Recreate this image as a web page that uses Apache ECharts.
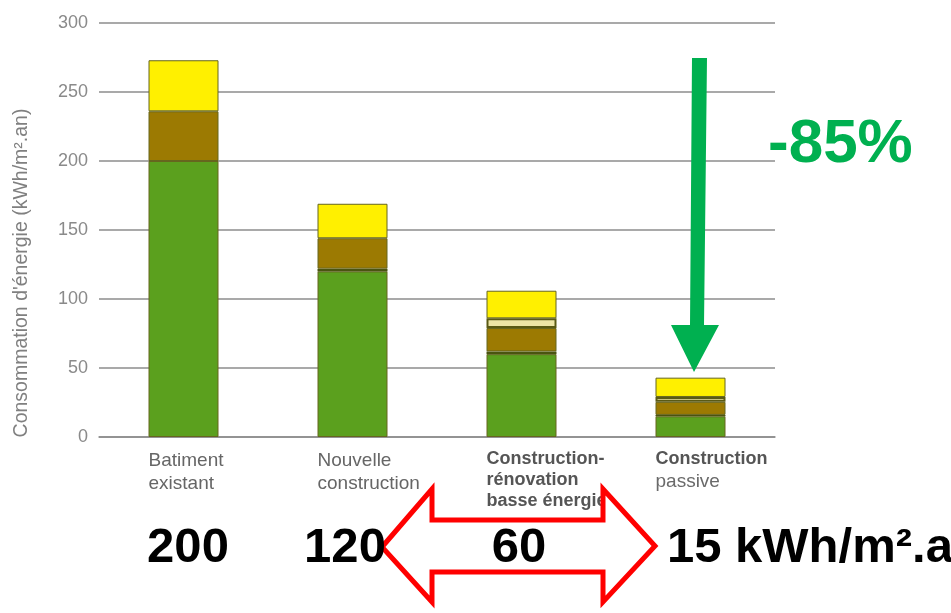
<!DOCTYPE html>
<html>
<head>
<meta charset="utf-8">
<script src="https://cdn.jsdelivr.net/npm/echarts@6/dist/echarts.min.js"></script>
<style>
  html, body { margin: 0; padding: 0; background: #ffffff; }
  #chart { width: 951px; height: 613px; }
</style>
</head>
<body>
<div id="chart"></div>
<script>
// Building categories and energy use per end use (kWh/m².an), stacked bottom to top
const categories = ['Batiment\nexistant', 'Nouvelle\nconstruction', 'Construction-\nrénovation\nbasse énergie', 'Construction\npassive'];
const chauffage   = [200, 120, 60, 15];
const auxiliaires = [0, 2, 2, 1];
const eauChaude   = [36, 22, 17, 9.5];
const ventilation = [0, 0, 7, 3.5];
const electricite = [37, 25, 20, 14];
const yTicks = [0, 50, 100, 150, 200, 250, 300];
const yTitle = "Consommation d'énergie (kWh/m².an)";
const reduction = '-85%';
const unit = ' kWh/m².a';

const FONT = "'Liberation Sans', Arial, sans-serif";
const chart = echarts.init(document.getElementById('chart'), null, { renderer: 'canvas' });

const border = '#66661e';
function seg(name, values, color, extra) {
  return Object.assign({
    name: name,
    type: 'bar',
    stack: 'total',
    barWidth: 70,
    data: values.map(v => (v === 0 ? '-' : v)),
    itemStyle: { color: color, borderColor: border, borderWidth: 1 },
    emphasis: { disabled: true },
    animation: false
  }, extra || {});
}

// Category labels: the last two are set in bold (the passive line in regular)
function categoryLabel(value, index) {
  const lines = value.split('\n');
  return lines.map((line, j) => {
    if (index === 2) return '{b|' + line + '}';
    if (index === 3) return (j === 0 ? '{b|' : '{p|') + line + '}';
    return '{n|' + line + '}';
  }).join('\n');
}

// Summary figures under the axis, taken from the heating values
const figureX = [188, 345, 519, 667];
const figures = chauffage.map((v, i) => ({
  type: 'text',
  z: 120,
  x: figureX[i],
  y: 548,
  style: {
    text: String(v) + (i === 3 ? unit : ''),
    fill: '#000000',
    font: 'bold 49px ' + FONT,
    textAlign: i === 3 ? 'left' : 'center',
    textVerticalAlign: 'middle'
  }
}));

const option = {
  backgroundColor: '#ffffff',
  animation: false,
  grid: { left: 99, right: 176, top: 23, bottom: 176 },
  xAxis: {
    type: 'category',
    data: categories,
    axisLine: { show: true, lineStyle: { color: '#8c8c8c', width: 1.5 } },
    axisTick: { show: false },
    axisLabel: {
      interval: 0,
      align: 'left',
      verticalAlign: 'top',
      margin: 12,
      padding: [0, 0, 0, -35],
      formatter: categoryLabel,
      rich: {
        n: { fontFamily: FONT, fontSize: 19, color: '#666666', lineHeight: 23 },
        p: { fontFamily: FONT, fontSize: 19, color: '#6a6a6a', lineHeight: 23 },
        b: { fontFamily: FONT, fontSize: 18, fontWeight: 'bold', color: '#555555', lineHeight: 21 }
      }
    }
  },
  yAxis: {
    type: 'value',
    min: yTicks[0],
    max: yTicks[yTicks.length - 1],
    interval: yTicks[1] - yTicks[0],
    axisLine: { show: false },
    axisTick: { show: false },
    axisLabel: { color: '#8a8a8a', fontFamily: FONT, fontSize: 18, margin: 11 },
    splitLine: { show: true, lineStyle: { color: '#8c8c8c', width: 1.5 } }
  },
  series: [
    seg('Chauffage', chauffage, '#5ba01e'),
    seg('Auxiliaires', auxiliaires, '#4a5410', { itemStyle: { color: '#4a5410', borderColor: '#4a5410', borderWidth: 0 } }),
    seg('Eau chaude', eauChaude, '#9c7a02'),
    seg('Ventilation', ventilation, '#eee6a6', { itemStyle: { color: '#eee6a6', borderColor: '#5a5a14', borderWidth: 2 } }),
    seg('Électricité', electricite, '#fff000')
  ],
  graphic: [
    {
      type: 'text',
      x: 22,
      y: 273,
      rotation: Math.PI / 2,
      style: {
        text: yTitle,
        fill: '#808080',
        font: '19.5px ' + FONT,
        textAlign: 'center',
        textVerticalAlign: 'middle'
      }
    },
    {
      type: 'polygon',
      z: 100,
      shape: { points: [[692, 58], [707, 58], [704, 325], [719, 325], [694, 372], [671, 325], [690, 325]] },
      style: { fill: '#00b050', stroke: null }
    },
    {
      type: 'text',
      z: 100,
      x: 768,
      y: 145,
      style: {
        text: reduction,
        fill: '#00b050',
        font: 'bold 62px ' + FONT,
        textAlign: 'left',
        textVerticalAlign: 'middle'
      }
    },
    {
      type: 'polygon',
      z: 100,
      shape: {
        points: [[382, 547], [432, 489], [432, 520], [603, 520], [603, 489], [655, 546],
                 [603, 602], [603, 572], [432, 572], [432, 602]]
      },
      style: { fill: '#ffffff', stroke: '#ff0000', lineWidth: 5, lineJoin: 'miter' }
    }
  ].concat(figures)
};

chart.setOption(option);
</script>
</body>
</html>
